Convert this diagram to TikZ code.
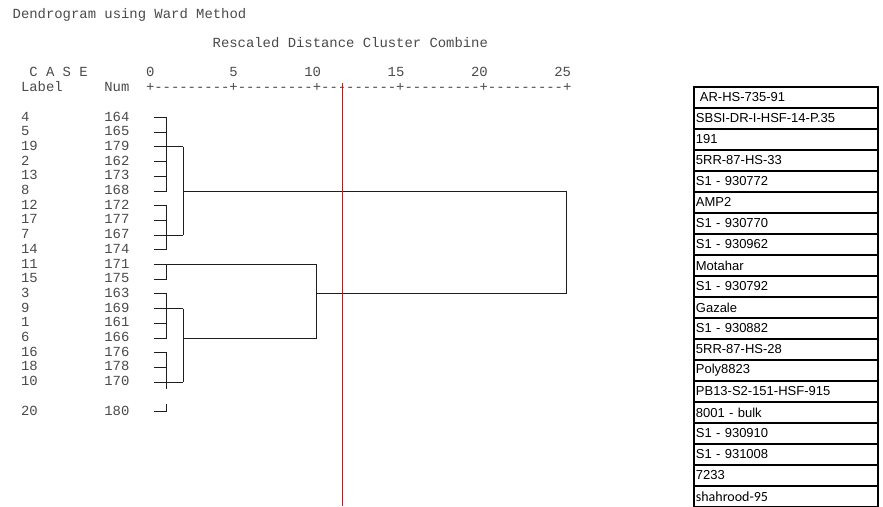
\documentclass[tikz,border=0pt]{standalone}
\usepackage{fontspec}
\newfontfamily\monof{Liberation Mono}
\newfontfamily\arialf{Liberation Sans}
\newfontfamily\calibf{Carlito}
\definecolor{txtgray}{HTML}{4A4A4A}
\definecolor{linegray}{HTML}{1E1E1E}
\tikzset{
  mono/.style={anchor=base west, inner sep=0pt, text=txtgray, font=\monof\fontsize{13.9}{14}\selectfont},
  dline/.style={draw=linegray, line width=1pt},
  cutline/.style={draw=red, line width=1.4pt},
  rowbox/.style={draw=black, line width=1.8pt, minimum width=184pt, minimum height=21pt, inner sep=0pt, anchor=north west, text width=180pt, align=left, font=\arialf\fontsize{13}{14}\selectfont},
}
\begin{document}
\begin{tikzpicture}[x=1pt,y=-1pt]
\useasboundingbox (0,0) rectangle (883,506);
% grid: column k starts at 12.5+8.3333k ; row i baseline 121+14.7i
\def\cx#1{12.5+8.3333*#1}
% header texts
\node[mono] (title) at ({\cx{0}},18.1) {Dendrogram using Ward Method};
\node[mono] (resc) at ({\cx{24}},47.5) {Rescaled Distance Cluster Combine};
\node[mono] (case) at ({\cx{2}},76.6) {C A S E};
\node[mono] (t0) at ({\cx{16}},76.6) {0};
\node[mono] (t5) at ({\cx{26}},76.6) {5};
\node[mono] (t10) at ({\cx{35}},76.6) {10};
\node[mono] (t15) at ({\cx{45}},76.6) {15};
\node[mono] (t20) at ({\cx{55}},76.6) {20};
\node[mono] (t25) at ({\cx{65}},76.6) {25};
\node[mono] (lab) at ({\cx{1}},91.3) {Label};
\node[mono] (num) at ({\cx{11}},91.3) {Num};
\node[mono] (axis) at ({\cx{16}},91.3) {+---------+---------+---------+---------+---------+};
% case rows
\foreach \i/\l/\n in {0/4/164,1/5/165,2/19/179,3/2/162,4/13/173,5/8/168,6/12/172,7/17/177,8/7/167,9/14/174,10/11/171,11/15/175,12/3/163,13/9/169,14/1/161,15/6/166,16/16/176,17/18/178,18/10/170,20/20/180}{
  \node[mono] (lab\i) at ({\cx{1}},{121+14.7*\i}) {\l};
  \node[mono] (num\i) at ({\cx{11}},{121+14.7*\i}) {\n};
  \coordinate (leaf\i) at (154.2,{117.5+14.7*\i});
  \coordinate (j\i) at (166.7,{117.5+14.7*\i});
  \coordinate (k\i) at (183.3,{117.5+14.7*\i});
  \coordinate (m\i) at (316.7,{117.5+14.7*\i});
  \coordinate (n\i) at (566.7,{117.5+14.7*\i});
  \draw[dline] (leaf\i) -- (j\i);
}
% first-level joins
\draw[dline] (j0) -- (j5);
\draw[dline] (j6) -- (j9);
\draw[dline] (j10) -- (j11);
\draw[dline] (j12) -- (j15);
\draw[dline] (j16) -- ([yshift=-7.35pt]j18);
\draw[dline] (j20) -- ([yshift=7.35pt]j20);
% second-level joins
\draw[dline] (j2) -- (k2);
\draw[dline] (j8) -- (k8);
\draw[dline] (k2) -- (k8);
\draw[dline] (k5) -- (n5);
\draw[dline] (j13) -- (k13);
\draw[dline] (j18) -- (k18);
\draw[dline] (k13) -- (k18);
\draw[dline] (k15) -- (m15);
\draw[dline] (j10) -- (m10);
\draw[dline] (m10) -- (m15);
\draw[dline] (m12) -- (n12);
\draw[dline] (n5) -- (n12);
% red cut line
\coordinate (cutTop) at (342.6,83);
\coordinate (cutBot) at (342.6,506);
\draw[cutline] (cutTop) -- (cutBot);
% right table
\foreach \i/\t in {0/{\hspace{4pt}AR-HS-735-91},1/SBSI-DR-I-HSF-14-P.35,2/191,3/5RR-87-HS-33,4/S1 - 930772,5/AMP2,6/S1 - 930770,7/S1 - 930962,8/Motahar,9/S1 - 930792,10/Gazale,11/S1 - 930882,12/5RR-87-HS-28,13/Poly8823,14/PB13-S2-151-HSF-915,15/8001 - bulk,16/S1 - 930910,17/S1 - 931008,18/7233}{
  \node[rowbox] (row\i) at (693,{86+21*\i}) {\t};
}
\node[rowbox, font=\calibf\fontsize{14}{15}\selectfont] (row19) at (693,485) {shahrood-95};
\end{tikzpicture}
\end{document}
